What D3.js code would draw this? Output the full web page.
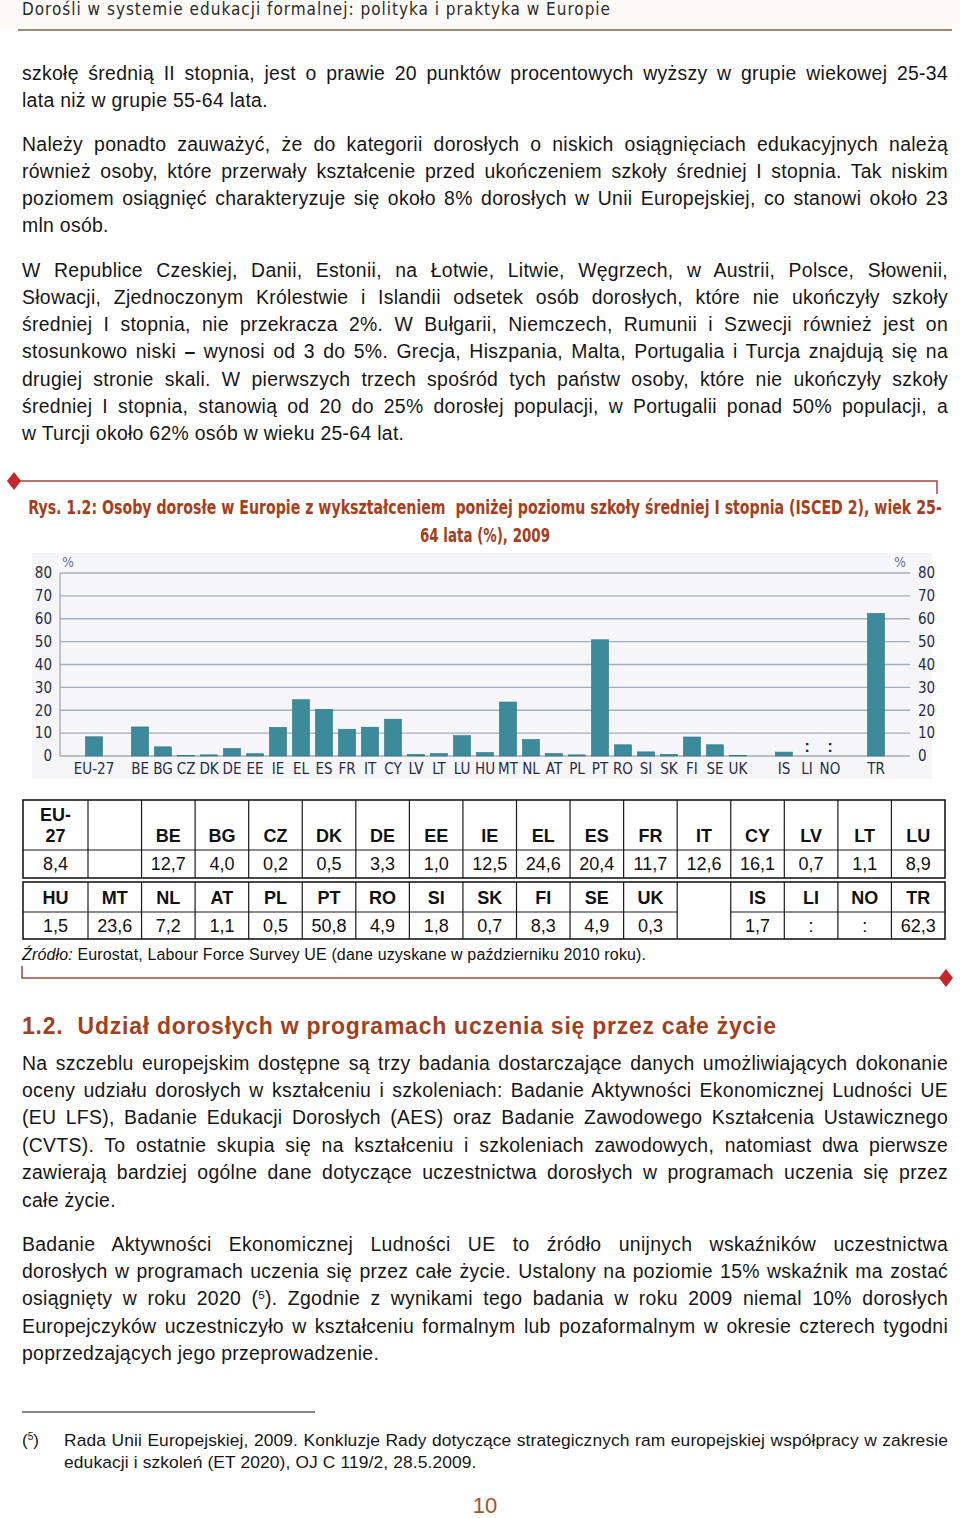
<!DOCTYPE html>
<html><head><meta charset="utf-8">
<script src="https://cdn.jsdelivr.net/npm/d3@7"></script>
<style>
body{margin:0;background:#fff;}
#page{position:relative;width:960px;height:1518px;overflow:hidden;font-family:"Liberation Sans",Arial,sans-serif;color:#161616;}
#page svg{position:absolute;left:0;top:0;}
.ln{position:absolute;white-space:nowrap;line-height:27px;}
sup{font-size:0.6em;line-height:0;vertical-align:0.55em;}
</style></head>
<body><div id="page"></div>
<script>
// ---------------- data ----------------
const categories = ["EU-27","BE","BG","CZ","DK","DE","EE","IE","EL","ES","FR","IT","CY","LV","LT","LU",
  "HU","MT","NL","AT","PL","PT","RO","SI","SK","FI","SE","UK","IS","LI","NO","TR"];
const values = [8.4,12.7,4.0,0.2,0.5,3.3,1.0,12.5,24.6,20.4,11.7,12.6,16.1,0.7,1.1,8.9,
  1.5,23.6,7.2,1.1,0.5,50.8,4.9,1.8,0.7,8.3,4.9,0.3,1.7,null,null,62.3];
// chart slots with gaps between groups
const slots = ["EU-27","_g1","BE","BG","CZ","DK","DE","EE","IE","EL","ES","FR","IT","CY","LV","LT","LU",
  "HU","MT","NL","AT","PL","PT","RO","SI","SK","FI","SE","UK","_g2","IS","LI","NO","_g3","TR"];
const yTicks = [0,10,20,30,40,50,60,70,80];
const tableRow1 = ["EU-27","","BE","BG","CZ","DK","DE","EE","IE","EL","ES","FR","IT","CY","LV","LT","LU"];
const tableRow2 = ["HU","MT","NL","AT","PL","PT","RO","SI","SK","FI","SE","UK","","IS","LI","NO","TR"];

const headerText = "Dorośli w systemie edukacji formalnej: polityka i praktyka w Europie";
const titleLines = ["Rys. 1.2: Osoby dorosłe w Europie z wykształceniem  poniżej poziomu szkoły średniej I stopnia (ISCED 2), wiek 25-",
  "64 lata (%), 2009"];
const sourceLabel = "Źródło:";
const sourceText = " Eurostat, Labour Force Survey UE (dane uzyskane w październiku 2010 roku).";
const sectionHeading = "1.2.  Udział dorosłych w programach uczenia się przez całe życie";

// text lines: [html, justified?]
const para1 = [
 ["szkołę średnią II stopnia, jest o prawie 20 punktów procentowych wyższy w grupie wiekowej 25-34",1],
 ["lata niż w grupie 55-64 lata.",0]];
const para2 = [
 ["Należy ponadto zauważyć, że do kategorii dorosłych o niskich osiągnięciach edukacyjnych należą",1],
 ["również osoby, które przerwały kształcenie przed ukończeniem szkoły średniej I stopnia. Tak niskim",1],
 ["poziomem osiągnięć charakteryzuje się około 8% dorosłych w Unii Europejskiej, co stanowi około 23",1],
 ["mln osób.",0]];
const para3 = [
 ["W Republice Czeskiej, Danii, Estonii, na Łotwie, Litwie, Węgrzech, w Austrii, Polsce, Słowenii,",1],
 ["Słowacji, Zjednoczonym Królestwie i Islandii odsetek osób dorosłych, które nie ukończyły szkoły",1],
 ["średniej I stopnia, nie przekracza 2%. W Bułgarii, Niemczech, Rumunii i Szwecji również jest on",1],
 ["stosunkowo niski <b>–</b> wynosi od 3 do 5%. Grecja, Hiszpania, Malta, Portugalia i Turcja znajdują się na",1],
 ["drugiej stronie skali. W pierwszych trzech spośród tych państw osoby, które nie ukończyły szkoły",1],
 ["średniej I stopnia, stanowią od 20 do 25% dorosłej populacji, w Portugalii ponad 50% populacji, a",1],
 ["w Turcji około 62% osób w wieku 25-64 lat.",0]];
const para4 = [
 ["Na szczeblu europejskim dostępne są trzy badania dostarczające danych umożliwiających dokonanie",1],
 ["oceny udziału dorosłych w kształceniu i szkoleniach: Badanie Aktywności Ekonomicznej Ludności UE",1],
 ["(EU LFS), Badanie Edukacji Dorosłych (AES) oraz Badanie Zawodowego Kształcenia Ustawicznego",1],
 ["(CVTS). To ostatnie skupia się na kształceniu i szkoleniach zawodowych, natomiast dwa pierwsze",1],
 ["zawierają bardziej ogólne dane dotyczące uczestnictwa dorosłych w programach uczenia się przez",1],
 ["całe życie.",0]];
const para5 = [
 ["Badanie Aktywności Ekonomicznej Ludności UE to źródło unijnych wskaźników uczestnictwa",1],
 ["dorosłych w programach uczenia się przez całe życie. Ustalony na poziomie 15% wskaźnik ma zostać",1],
 ["osiągnięty w roku 2020 (<sup>5</sup>). Zgodnie z wynikami tego badania w roku 2009 niemal 10% dorosłych",1],
 ["Europejczyków uczestniczyło w kształceniu formalnym lub pozaformalnym w okresie czterech tygodni",1],
 ["poprzedzających jego przeprowadzenie.",0]];
const footnote = [
 ["Rada Unii Europejskiej, 2009. Konkluzje Rady dotyczące strategicznych ram europejskiej współpracy w zakresie",1],
 ["edukacji i szkoleń (ET 2020), OJ C 119/2, 28.5.2009.",0]];
const pageNumber = "10";

// ---------------- page ----------------
const page = d3.select("#page");
const svg = page.append("svg").attr("width",960).attr("height",1518);
const narrow = '"Liberation Sans Narrow","DejaVu Sans Condensed","Arial Narrow",sans-serif';

// header
svg.append("rect").attr("x",0).attr("y",0).attr("width",960).attr("height",29).attr("fill","#fdfbf8");
svg.append("text").attr("x",22).attr("y",15).attr("font-family",narrow).attr("font-size",17)
  .attr("fill","#2a2a2a").attr("textLength",588).attr("lengthAdjust","spacing").text(headerText);
svg.append("line").attr("x1",18).attr("x2",952).attr("y1",30).attr("y2",30)
  .attr("stroke","#9c8a74").attr("stroke-width",2);

// text lines, justified manually via word-spacing
function addLines(lines, y0, step, opts={}) {
  const left = opts.left||22, width = opts.width||926, size = opts.size||19.4, ls = opts.ls==null?0.3:opts.ls;
  lines.forEach((d,i)=>{
    const div = page.append("div").attr("class","ln")
      .style("top",(y0+i*step-13.5)+"px")
      .style("left",left+"px")
      .style("font-size",size+"px")
      .style("letter-spacing",ls+"px")
      .html(d[0]);
    if(d[1]){
      const w = div.node().getBoundingClientRect().width;
      const gaps = (div.node().textContent.match(/ /g)||[]).length;
      if(gaps>0) div.style("word-spacing",((width-w)/gaps)+"px");
    }
  });
}
addLines(para1, 73, 27.3);
addLines(para2, 144, 27.3);
addLines(para3, 270, 27.3);
addLines(para4, 1063, 27.4);
addLines(para5, 1244, 27.4);

// figure frame top
const frameColor = "#9a4a42", diamondColor = "#c4262c";
svg.append("path").attr("d","M14,481H937V494").attr("fill","none").attr("stroke",frameColor).attr("stroke-width",1.5);
const diamond = (cx,cy)=> svg.append("path").attr("d",`M${cx},${cy-9}L${cx+7},${cy}L${cx},${cy+9}L${cx-7},${cy}Z`).attr("fill",diamondColor);
diamond(14,481);

// title (condensed by horizontal scale to the reference width)
const titleColor = "#a63e1c";
const titleWidths = [914,130];
titleLines.forEach((t,i)=>{
  const tx = svg.append("text").attr("x",0).attr("y",0).attr("text-anchor","middle")
    .style("white-space","pre")
    .attr("font-family",narrow).attr("font-weight","bold").attr("font-size",19).attr("fill",titleColor).text(t);
  const w = tx.node().getComputedTextLength();
  tx.attr("transform",`translate(485,${514+i*28}) scale(${titleWidths[i]/w},1)`);
});

// ---------------- chart ----------------
svg.append("rect").attr("x",32).attr("y",553).attr("width",900).attr("height",226).attr("fill","#f6f6f8");
const x = d3.scaleBand().domain(slots).range([60,910]).paddingInner(0.26).paddingOuter(1.11);
const y = d3.scaleLinear().domain([0,80]).range([756,573]);
const gridColor = "#a6adbd";
const g = svg.append("g");
g.selectAll("line.grid").data(yTicks).join("line").attr("class","grid")
  .attr("x1",60).attr("x2",910).attr("y1",d=>y(d)).attr("y2",d=>y(d))
  .attr("stroke",gridColor).attr("stroke-width",1.4);
g.append("line").attr("x1",60).attr("x2",60).attr("y1",y(80)).attr("y2",y(0)).attr("stroke",gridColor).attr("stroke-width",1.4);

const tickColor = "#1f2b4a";
const la = g.append("g").attr("transform","translate(60,0)")
  .call(d3.axisLeft(y).tickValues(yTicks).tickSize(0).tickPadding(8));
const ra = g.append("g").attr("transform","translate(910,0)")
  .call(d3.axisRight(y).tickValues(yTicks).tickSize(0).tickPadding(8));
[la,ra].forEach(a=>{a.select(".domain").remove();
  a.selectAll("text").attr("font-family",narrow).attr("font-size",15).attr("fill",tickColor);});

const ba = g.append("g").attr("transform","translate(0,756)")
  .call(d3.axisBottom(x).tickSize(0).tickPadding(7).tickFormat(d=>d.startsWith("_")?"":d));
ba.select(".domain").remove();
ba.selectAll("text").attr("font-family",narrow).attr("font-size",15).attr("fill",tickColor);

g.append("text").attr("x",62).attr("y",567).attr("font-family",narrow).attr("font-size",14).attr("fill","#6d7790").text("%");
g.append("text").attr("x",894).attr("y",567).attr("font-family",narrow).attr("font-size",14).attr("fill","#6d7790").text("%");

const barData = categories.map((c,i)=>({c, v:values[i]}));
g.selectAll("rect.bar").data(barData.filter(d=>d.v!=null)).join("rect").attr("class","bar")
  .attr("x",d=>x(d.c)).attr("width",x.bandwidth())
  .attr("y",d=>y(d.v)).attr("height",d=>y(0)-y(d.v))
  .attr("fill","#3d8a9b").attr("stroke","#2e7384").attr("stroke-width",0.6);
g.selectAll("text.na").data(barData.filter(d=>d.v==null)).join("text").attr("class","na")
  .attr("x",d=>x(d.c)+x.bandwidth()/2).attr("y",752).attr("text-anchor","middle")
  .attr("font-family","Liberation Sans, Arial, sans-serif").attr("font-weight","bold").attr("font-size",17)
  .attr("fill","#1f2a48").text(":");

// ---------------- table ----------------
const fmt = v => v==null ? ":" : d3.format(".1f")(v).replace(".",",");
const valueOf = c => { const i = categories.indexOf(c); return i<0 ? "" : fmt(values[i]); };
const colEdges = [23,88].concat(d3.range(1,17).map(i=>88+i*(945-88)/16));
const tg = svg.append("g").attr("font-family","Liberation Sans, Arial, sans-serif").attr("fill","#111");
function drawTable(row, top, mid, bottom, headerY, valueY, mergedEmpty) {
  tg.append("rect").attr("x",23).attr("y",top).attr("width",945-23).attr("height",bottom-top)
    .attr("fill","none").attr("stroke","#1a1a1a").attr("stroke-width",1.6);
  colEdges.slice(1,-1).forEach(e=>tg.append("line").attr("x1",e).attr("x2",e).attr("y1",top).attr("y2",bottom)
    .attr("stroke","#1a1a1a").attr("stroke-width",1.2));
  row.forEach((c,i)=>{
    const x0 = colEdges[i], x1 = colEdges[i+1], cx=(x0+x1)/2;
    if(!(c==="" && mergedEmpty))
      tg.append("line").attr("x1",x0).attr("x2",x1).attr("y1",mid).attr("y2",mid).attr("stroke","#1a1a1a").attr("stroke-width",1.2);
    if(c==="") return;
    if(c==="EU-27"){
      tg.append("text").attr("x",cx).attr("y",headerY-21).attr("text-anchor","middle").attr("font-weight","bold").attr("font-size",18).text("EU-");
      tg.append("text").attr("x",cx).attr("y",headerY).attr("text-anchor","middle").attr("font-weight","bold").attr("font-size",18).text("27");
    } else {
      tg.append("text").attr("x",cx).attr("y",headerY).attr("text-anchor","middle").attr("font-weight","bold").attr("font-size",18).text(c);
    }
    tg.append("text").attr("x",cx).attr("y",valueY).attr("text-anchor","middle").attr("font-size",18).text(valueOf(c));
  });
}
drawTable(tableRow1, 800, 850, 878, 842, 870, false);
drawTable(tableRow2, 882, 912, 939, 904, 932, true);

// source
const st = svg.append("text").attr("x",22).attr("y",960).attr("font-family","Liberation Sans, Arial, sans-serif")
  .attr("font-size",16).attr("fill","#111").attr("textLength",624).attr("lengthAdjust","spacing");
st.append("tspan").attr("font-style","italic").text(sourceLabel);
st.append("tspan").text(sourceText);

// figure frame bottom
svg.append("path").attr("d","M22,966V978H946").attr("fill","none").attr("stroke",frameColor).attr("stroke-width",1.5);
diamond(946,978);

// section heading
svg.append("text").attr("x",22).attr("y",1034).style("white-space","pre").attr("font-family","Liberation Sans, Arial, sans-serif")
  .attr("font-weight","bold").attr("font-size",23).attr("fill","#a3401c")
  .attr("textLength",754).attr("lengthAdjust","spacing").text(sectionHeading);

// footnote
svg.append("line").attr("x1",22).attr("x2",315).attr("y1",1412).attr("y2",1412).attr("stroke","#111").attr("stroke-width",1);
page.append("div").attr("class","ln").style("left","22px").style("top",(1440-13.5)+"px").style("font-size","17px")
  .html("(<sup>5</sup>)");
addLines(footnote, 1440, 22, {left:64, width:884, size:17.4, ls:0.12});

// page number
svg.append("text").attr("x",485).attr("y",1513).attr("text-anchor","middle").attr("font-family","Liberation Sans, Arial, sans-serif")
  .attr("font-size",22).attr("fill","#a4532a").text(pageNumber);
</script>
</body></html>
